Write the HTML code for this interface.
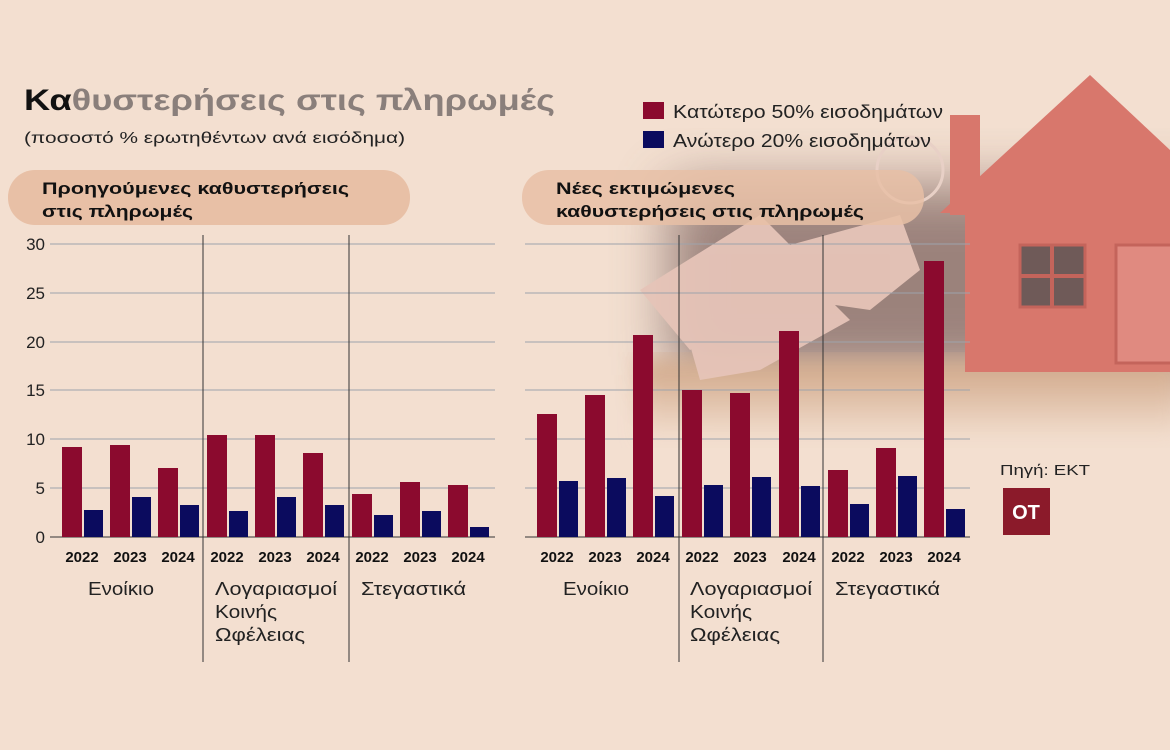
<!DOCTYPE html>
<html><head><meta charset="utf-8"><style>
html,body{margin:0;padding:0;background:#f3dfd0;}
svg{display:block;font-family:"Liberation Sans","DejaVu Sans",sans-serif;}
</style></head><body>
<svg width="1170" height="750" viewBox="0 0 1170 750" xmlns="http://www.w3.org/2000/svg">
<defs>
<filter id="bl" x="-30%" y="-30%" width="160%" height="160%"><feGaussianBlur stdDeviation="28"/></filter>
<filter id="bl2"><feGaussianBlur stdDeviation="10"/></filter>
<linearGradient id="fl" x1="0" y1="0" x2="0" y2="1"><stop offset="0" stop-color="#c99b78"/><stop offset="1" stop-color="#f3dfd0"/></linearGradient>
</defs>
<rect width="1170" height="750" fill="#f3dfd0"/>
<g opacity="0.85">
<rect x="670" y="185" width="550" height="190" fill="#8c726d" filter="url(#bl)"/>
<rect x="640" y="360" width="540" height="80" fill="url(#fl)" filter="url(#bl2)"/>
</g>
<g fill="#e6c4b8" opacity="0.95">
<path d="M640 290 L760 215 L790 245 L900 215 L920 270 L870 310 L800 300 L690 350 Z"/>
<path d="M690 345 L800 270 L830 300 L850 320 L760 370 L700 380 Z"/>
</g>
<circle cx="910" cy="170" r="33" fill="none" stroke="#e8d0c6" stroke-width="3"/>
<path d="M940 213 L1090 75 L1170 150 L1170 372 L965 372 L965 213 Z" fill="#d8776c"/>
<rect x="950" y="115" width="30" height="100" fill="#d8776c"/>
<rect x="1020" y="245" width="65" height="62" fill="#6f5a58" stroke="#c4645b" stroke-width="3"/>
<line x1="1052" y1="245" x2="1052" y2="307" stroke="#c4645b" stroke-width="4"/>
<line x1="1020" y1="276" x2="1085" y2="276" stroke="#c4645b" stroke-width="4"/>
<rect x="1116" y="245" width="60" height="118" fill="#e08a80" stroke="#c4645b" stroke-width="3"/>
<text x="24" y="110" font-size="30" font-weight="bold" fill="#8a7f7b" textLength="531" lengthAdjust="spacingAndGlyphs"><tspan fill="#111">Κα</tspan>θυστερήσεις στις πληρωμές</text>
<text x="24" y="143" font-size="16" fill="#222" textLength="381" lengthAdjust="spacingAndGlyphs">(ποσοστό % ερωτηθέντων ανά εισόδημα)</text>
<rect x="643" y="102" width="21" height="17" fill="#8b0a2e"/>
<text x="673" y="118" font-size="18" fill="#222" textLength="270" lengthAdjust="spacingAndGlyphs">Κατώτερο 50% εισοδημάτων</text>
<rect x="643" y="131" width="21" height="17" fill="#0b0b5e"/>
<text x="673" y="147" font-size="18" fill="#222" textLength="258" lengthAdjust="spacingAndGlyphs">Ανώτερο 20% εισοδημάτων</text>
<rect x="8" y="170" width="402" height="55" rx="27" fill="#e8c0a6"/>
<text x="42" y="194" font-size="17" font-weight="bold" fill="#111" textLength="307" lengthAdjust="spacingAndGlyphs">Προηγούμενες καθυστερήσεις</text>
<text x="42" y="217" font-size="17" font-weight="bold" fill="#111" textLength="151" lengthAdjust="spacingAndGlyphs">στις πληρωμές</text>
<rect x="522" y="170" width="402" height="55" rx="27" fill="#e8c0a6" opacity="0.85"/>
<text x="556" y="194" font-size="17" font-weight="bold" fill="#111" textLength="179" lengthAdjust="spacingAndGlyphs">Νέες εκτιμώμενες</text>
<text x="556" y="217" font-size="17" font-weight="bold" fill="#111" textLength="308" lengthAdjust="spacingAndGlyphs">καθυστερήσεις στις πληρωμές</text>
<g stroke="#9ea3ab" stroke-width="1">
<line x1="50" y1="244" x2="495" y2="244"/><line x1="50" y1="293" x2="495" y2="293"/><line x1="50" y1="342" x2="495" y2="342"/><line x1="50" y1="390" x2="495" y2="390"/><line x1="50" y1="439" x2="495" y2="439"/><line x1="50" y1="488" x2="495" y2="488"/>
<line x1="525" y1="244" x2="970" y2="244"/><line x1="525" y1="293" x2="970" y2="293"/><line x1="525" y1="342" x2="970" y2="342"/><line x1="525" y1="390" x2="970" y2="390"/><line x1="525" y1="439" x2="970" y2="439"/><line x1="525" y1="488" x2="970" y2="488"/>
</g>
<g stroke="#333" stroke-width="1">
<line x1="203" y1="235" x2="203" y2="662"/><line x1="349" y1="235" x2="349" y2="662"/>
<line x1="679" y1="235" x2="679" y2="662"/><line x1="823" y1="235" x2="823" y2="662"/>
<line x1="50" y1="537" x2="495" y2="537"/>
<line x1="525" y1="537" x2="970" y2="537"/>
</g>
<g font-size="17" fill="#222" text-anchor="end">
<text x="45" y="250">30</text><text x="45" y="299">25</text><text x="45" y="348">20</text><text x="45" y="396">15</text><text x="45" y="445">10</text><text x="45" y="494">5</text><text x="45" y="543">0</text>
</g>
<g fill="#8b0a2e">
<rect x="62" y="447" width="20" height="90"/><rect x="110" y="445" width="20" height="92"/><rect x="158" y="468" width="20" height="69"/>
<rect x="207" y="435" width="20" height="102"/><rect x="255" y="435" width="20" height="102"/><rect x="303" y="453" width="20" height="84"/>
<rect x="352" y="494" width="20" height="43"/><rect x="400" y="482" width="20" height="55"/><rect x="448" y="485" width="20" height="52"/>
<rect x="537" y="414" width="20" height="123"/><rect x="585" y="395" width="20" height="142"/><rect x="633" y="335" width="20" height="202"/>
<rect x="682" y="390" width="20" height="147"/><rect x="730" y="393" width="20" height="144"/><rect x="779" y="331" width="20" height="206"/>
<rect x="828" y="470" width="20" height="67"/><rect x="876" y="448" width="20" height="89"/><rect x="924" y="261" width="20" height="276"/>
</g>
<g fill="#0b0b5e">
<rect x="84" y="510" width="19" height="27"/><rect x="132" y="497" width="19" height="40"/><rect x="180" y="505" width="19" height="32"/>
<rect x="229" y="511" width="19" height="26"/><rect x="277" y="497" width="19" height="40"/><rect x="325" y="505" width="19" height="32"/>
<rect x="374" y="515" width="19" height="22"/><rect x="422" y="511" width="19" height="26"/><rect x="470" y="527" width="19" height="10"/>
<rect x="559" y="481" width="19" height="56"/><rect x="607" y="478" width="19" height="59"/><rect x="655" y="496" width="19" height="41"/>
<rect x="704" y="485" width="19" height="52"/><rect x="752" y="477" width="19" height="60"/><rect x="801" y="486" width="19" height="51"/>
<rect x="850" y="504" width="19" height="33"/><rect x="898" y="476" width="19" height="61"/><rect x="946" y="509" width="19" height="28"/>
</g>
<g font-size="15" font-weight="bold" fill="#111" text-anchor="middle">
<text x="82" y="562">2022</text><text x="130" y="562">2023</text><text x="178" y="562">2024</text>
<text x="227" y="562">2022</text><text x="275" y="562">2023</text><text x="323" y="562">2024</text>
<text x="372" y="562">2022</text><text x="420" y="562">2023</text><text x="468" y="562">2024</text>
<text x="557" y="562">2022</text><text x="605" y="562">2023</text><text x="653" y="562">2024</text>
<text x="702" y="562">2022</text><text x="750" y="562">2023</text><text x="799" y="562">2024</text>
<text x="848" y="562">2022</text><text x="896" y="562">2023</text><text x="944" y="562">2024</text>
</g>
<g font-size="18" fill="#222">
<text x="88" y="595" textLength="66" lengthAdjust="spacingAndGlyphs">Ενοίκιο</text>
<text x="215" y="595" textLength="122" lengthAdjust="spacingAndGlyphs">Λογαριασμοί</text><text x="215" y="618" textLength="62" lengthAdjust="spacingAndGlyphs">Κοινής</text><text x="215" y="641" textLength="90" lengthAdjust="spacingAndGlyphs">Ωφέλειας</text>
<text x="361" y="595" textLength="105" lengthAdjust="spacingAndGlyphs">Στεγαστικά</text>
<text x="563" y="595" textLength="66" lengthAdjust="spacingAndGlyphs">Ενοίκιο</text>
<text x="690" y="595" textLength="122" lengthAdjust="spacingAndGlyphs">Λογαριασμοί</text><text x="690" y="618" textLength="62" lengthAdjust="spacingAndGlyphs">Κοινής</text><text x="690" y="641" textLength="90" lengthAdjust="spacingAndGlyphs">Ωφέλειας</text>
<text x="835" y="595" textLength="105" lengthAdjust="spacingAndGlyphs">Στεγαστικά</text>
</g>
<text x="1000" y="475" font-size="15" fill="#222" textLength="90" lengthAdjust="spacingAndGlyphs">Πηγή: ΕΚΤ</text>
<rect x="1003" y="488" width="47" height="47" fill="#8b1a2a"/>
<text x="1026" y="519" font-size="20" font-weight="bold" fill="#fff" text-anchor="middle">OT</text>
</svg>
</body></html>
